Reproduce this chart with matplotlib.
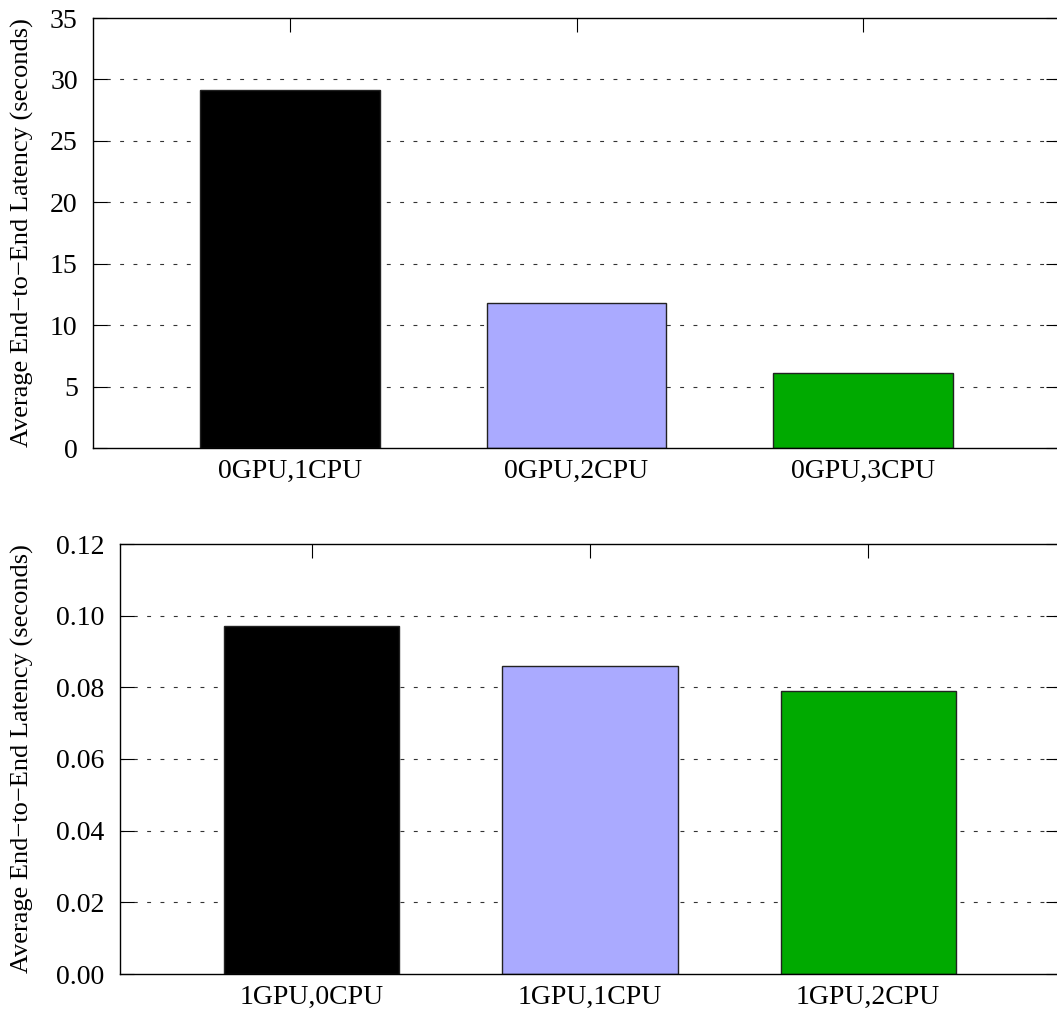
import matplotlib
matplotlib.use("Agg")
import matplotlib.pyplot as plt

plt.rcParams['font.family'] = ['Liberation Serif', 'DejaVu Serif']

top_categories = ["0GPU,1CPU", "0GPU,2CPU", "0GPU,3CPU"]
top_values = [29.13, 11.78, 6.13]
top_yticks = [0, 5, 10, 15, 20, 25, 30, 35]
top_yticklabels = ["0", "5", "10", "15", "20", "25", "30", "35"]

bottom_categories = ["1GPU,0CPU", "1GPU,1CPU", "1GPU,2CPU"]
bottom_values = [0.0970, 0.0860, 0.0790]
bottom_yticks = [0.00, 0.02, 0.04, 0.06, 0.08, 0.10, 0.12]
bottom_yticklabels = ["0.00", "0.02", "0.04", "0.06", "0.08", "0.10", "0.12"]

bar_colors = ["#000000", "#aaaaff", "#00aa00"]
ylabel = "Average End\u2212to\u2212End Latency (seconds)"

W, H = 1057, 1017
fig = plt.figure(figsize=(W / 100, H / 100), dpi=100)

def px_axes(left, top, right, bottom):
    return fig.add_axes([left / W, (H - bottom) / H, (right - left) / W, (bottom - top) / H])

def style(ax, cats, vals, yticks, yticklabels, ymax, xlim, width, label_x):
    x = list(range(len(cats)))
    ax.bar(x, vals, width=width, color=bar_colors, edgecolor="#222222",
           linewidth=1.0, zorder=3)
    ax.set_xlim(*xlim)
    ax.set_ylim(0, ymax)
    ax.set_yticks(yticks)
    ax.set_yticklabels(yticklabels)
    ax.set_xticks(x)
    ax.set_xticklabels(cats)
    for yv in yticks[1:-1]:
        ax.axhline(yv, color="#333333", linewidth=0.8,
                   linestyle=(0, (3.5, 8.5)), zorder=1)
    ax.tick_params(axis="y", direction="in", length=10, width=0.8,
                   left=True, right=True, labelsize=20, pad=11)
    ax.tick_params(axis="x", direction="in", length=10, width=0.8,
                   bottom=False, top=True, labelsize=20, pad=8)
    for s in ax.spines.values():
        s.set_linewidth(1.0)
        s.set_color("black")
        s.set_zorder(4)
    ax.set_ylabel(ylabel, fontsize=19)
    ax.yaxis.set_label_coords(label_x, 0.5)

ax1 = px_axes(93, 18, 1060, 448)
style(ax1, top_categories, top_values, top_yticks, top_yticklabels, 35,
      (-0.688, 2.688), 0.628, (34 - 93) / (1060 - 93))

ax2 = px_axes(120, 544, 1060, 974)
style(ax2, bottom_categories, bottom_values, bottom_yticks, bottom_yticklabels, 0.12,
      (-0.69, 2.69), 0.63, (34 - 120) / (1060 - 120))

fig.savefig("out.png", dpi=100)
